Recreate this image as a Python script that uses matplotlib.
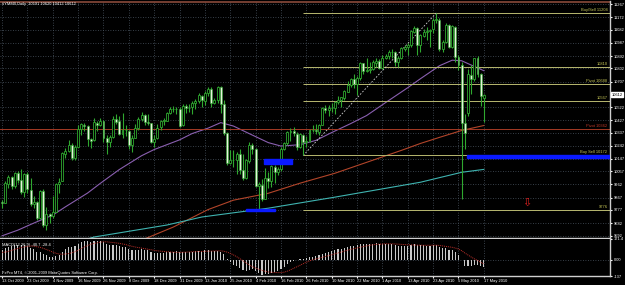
import matplotlib
matplotlib.use("Agg")
import matplotlib.pyplot as plt
from matplotlib.patches import Rectangle
import numpy as np
import pandas as pd

plt.rcParams['font.family'] = ['Liberation Sans', 'DejaVu Sans']

# ---- data ----
title = "#YMM0,Daily  10591 10620 10412 10612"
date_labels = ["13 Oct 2009", "23 Oct 2009", "4 Nov 2009", "16 Nov 2009", "26 Nov 2009",
               "8 Dec 2009", "18 Dec 2009", "31 Dec 2009", "13 Jan 2010", "25 Jan 2010",
               "4 Feb 2010", "16 Feb 2010", "26 Feb 2010", "10 Mar 2010", "22 Mar 2010",
               "1 Apr 2010", "13 Apr 2010", "23 Apr 2010", "5 May 2010", "17 May 2010"]
price_ticks = [11267, 11172, 11082, 10987, 10892, 10802, 10707, 10522, 10427,
               10337, 10242, 10147, 10057, 9962, 9867, 9777, 9682, 9592]
last_price = 10612

# closes before the first visible bar (warm-up for the MACD)
warmup_closes = [9090, 9172, 9234, 9305, 9460, 9464, 9494, 9498, 9535, 9499, 9451,
                 9265, 9235, 9299, 9396, 9400, 9452, 9502, 9582, 9560, 9581, 9638,
                 9747, 9738, 9775, 9733, 9784, 9703, 9662, 9620, 9744, 9697, 9667,
                 9464, 9443, 9554, 9686, 9681, 9742, 9820, 9840]

opens = [9835, 9830, 9968, 10015, 9950, 10045, 9995, 9905, 10035, 9925, 9822, 9835, 9720, 9915,
         9670, 9745, 9730, 9765, 9965, 9990, 10185, 10205, 10250, 10155, 10235, 10365, 10395, 10385,
         10290, 10285, 10410, 10395, 10425, 10300, 10270, 10305, 10435, 10420, 10330, 10355, 10350,
         10250, 10300, 10370, 10435, 10465, 10415, 10405, 10270, 10295, 10375, 10425, 10425, 10480,
         10505, 10505, 10510, 10390, 10530, 10515, 10520, 10550, 10565, 10605, 10570, 10625, 10655,
         10555, 10575, 10668, 10548, 10335, 10120, 10140, 10140, 10180, 10065, 10010, 10135, 10245,
         10220, 9950, 9960, 9860, 10010, 9985, 10090, 10050, 10075, 10220, 10260, 10340, 10350,
         10330, 10230, 10320, 10270, 10275, 10355, 10355, 10345, 10395, 10515, 10500, 10515, 10515,
         10560, 10575, 10590, 10635, 10685, 10728, 10690, 10735, 10840, 10785, 10790, 10800, 10845,
         10855, 10805, 10875, 10895, 10920, 10920, 10850, 10875, 10945, 10955, 10970, 11070, 11095,
         10970, 11040, 11065, 11075, 11085, 11155, 11150, 10940, 10995, 11115, 10960, 11105, 10885,
         10830, 10410, 10480, 10755, 10725, 10875, 10765, 10591]
highs = [9850, 9985, 10030, 10020, 10055, 10060, 10075, 10045, 10050, 10010, 9880, 9840, 9925, 9930,
         9800, 9755, 9880, 9975, 10010, 10195, 10225, 10285, 10265, 10245, 10395, 10405, 10410, 10390,
         10300, 10440, 10425, 10445, 10430, 10320, 10320, 10460, 10470, 10460, 10480, 10395, 10360,
         10320, 10400, 10450, 10485, 10475, 10470, 10410, 10320, 10400, 10430, 10440, 10485, 10525,
         10530, 10520, 10525, 10545, 10545, 10545, 10570, 10580, 10625, 10610, 10640, 10665, 10665,
         10590, 10675, 10672, 10575, 10345, 10210, 10215, 10200, 10220, 10185, 10145, 10270, 10260,
         10225, 9980, 10005, 10080, 10050, 10105, 10100, 10090, 10230, 10270, 10350, 10370, 10375,
         10340, 10335, 10325, 10310, 10365, 10395, 10400, 10400, 10525, 10535, 10540, 10550, 10570,
         10600, 10595, 10645, 10710, 10735, 10760, 10750, 10850, 10845, 10880, 10850, 10860, 10880,
         10870, 10900, 10905, 10935, 10945, 10930, 10890, 10955, 10975, 10985, 11080, 11110, 11100,
         11050, 11090, 11100, 11090, 11165, 11204, 11165, 11005, 11130, 11125, 11120, 11110, 10900,
         10850, 10470, 10800, 10830, 10880, 10890, 10770, 10620]
lows = [9790, 9825, 9935, 9930, 9935, 9975, 9895, 9870, 9900, 9805, 9790, 9705, 9715, 9655,
        9635, 9680, 9720, 9760, 9900, 9985, 10150, 10200, 10140, 10140, 10230, 10320, 10350, 10240,
        10225, 10280, 10350, 10385, 10270, 10180, 10230, 10300, 10400, 10320, 10300, 10310, 10220,
        10200, 10295, 10360, 10420, 10390, 10395, 10265, 10230, 10290, 10360, 10395, 10420, 10470,
        10490, 10470, 10380, 10385, 10480, 10490, 10470, 10510, 10550, 10520, 10540, 10600, 10525,
        10545, 10555, 10480, 10320, 10100, 10110, 10085, 10040, 10040, 9995, 10005, 10120, 10180,
        9940, 9785, 9840, 9855, 9935, 9940, 9970, 10030, 10060, 10210, 10245, 10280, 10310,
        10215, 10225, 10172, 10235, 10270, 10340, 10330, 10320, 10390, 10480, 10460, 10490, 10470,
        10545, 10520, 10575, 10630, 10670, 10660, 10610, 10720, 10760, 10775, 10770, 10790, 10810,
        10795, 10800, 10870, 10870, 10880, 10820, 10810, 10870, 10930, 10900, 10960, 11060, 10900,
        10920, 11030, 11010, 10960, 11060, 11130, 10930, 10920, 10990, 10950, 10950, 10850, 10790,
        9860, 10220, 10460, 10620, 10710, 10740, 10530, 10412]
closes = [9826, 9971, 10018, 9951, 10047, 9996, 9904, 10036, 9927, 9823, 9837, 9718, 9918, 9668,
          9749, 9732, 9762, 9966, 9983, 10187, 10207, 10251, 10157, 10230, 10367, 10397, 10386, 10292,
          10278, 10411, 10394, 10424, 10300, 10270, 10305, 10437, 10418, 10331, 10354, 10355, 10251,
          10302, 10371, 10437, 10466, 10417, 10406, 10273, 10294, 10374, 10425, 10426, 10480, 10507,
          10505, 10509, 10388, 10529, 10517, 10519, 10552, 10563, 10609, 10572, 10626, 10656, 10555,
          10575, 10670, 10548, 10335, 10118, 10142, 10139, 10181, 10065, 10012, 10136, 10247, 10221,
          9952, 9962, 9858, 10009, 9988, 10094, 10049, 10075, 10219, 10259, 10343, 10352, 10333,
          10232, 10324, 10271, 10275, 10354, 10356, 10347, 10394, 10516, 10503, 10514, 10517, 10562,
          10575, 10592, 10636, 10684, 10729, 10692, 10736, 10839, 10786, 10791, 10800, 10846, 10857,
          10807, 10877, 10895, 10924, 10920, 10848, 10878, 10947, 10956, 10969, 11073, 11095, 10969,
          11042, 11067, 11075, 11084, 11154, 11155, 10942, 10995, 11117, 10959, 11110, 10885, 10830,
          10410, 10335, 10760, 10725, 10875, 10765, 10600, 10612]

# moving averages, sampled (bar index, value)
ma_purple_bars = [0, 5, 10, 16, 20, 27, 31, 37, 44, 48, 52, 56, 60, 65, 69, 73, 78, 84, 88,
                  94, 99, 104, 110, 115, 121, 128, 132, 138, 142, 145, 152]
ma_purple = [9590, 9631, 9682, 9740, 9800, 9900, 9970, 10070, 10170, 10215, 10250, 10285, 10331,
             10370, 10410, 10385, 10330, 10265, 10240, 10250, 10281, 10338, 10403, 10461, 10555,
             10663, 10728, 10822, 10862, 10858, 10786]
ma_brown_bars = [40, 54, 65, 73, 84, 94, 105, 115, 126, 132, 138, 145, 152]
ma_brown = [9520, 9653, 9780, 9848, 9898, 9971, 10043, 10122, 10209, 10259, 10303, 10353, 10389]
ma_teal_bars = [20, 29, 52, 63, 84, 105, 132, 145, 152]
ma_teal = [9520, 9581, 9668, 9726, 9790, 9870, 9978, 10050, 10071]

# drawn objects
fib_start, fib_end = 95, 137
fib_levels = [11204, 10810, 10688, 10567, 10172, 9776]
fib_texts = ["Buy/Sell 11204", "10810", "Pivot 10688", "10567", "Buy Sell 10172", "9776"]
pivot_level = 10362
pivot_text = "Pivot 10362"
blue_zones = [(82.6, 91.5, 10112, 10148), (77, 86, 9768, 9785), (146.7, 192, 10152, 10178)]
arrow_bar, arrow_price = 165.6, 9830
macd_title = "MACD(12,26,9) -40.7 -28.4"
macd_ticks = [171.4, 0.0, -137]
copyright = "FxPro MT4, \u00a9 2001-2009 MetaQuotes Software Corp."

# ---- figure ----
bg = "black"
grid_c = "#4a5560"
fs = 2.9
fig = plt.figure(figsize=(6.25, 2.85), dpi=100, facecolor=bg)
ax = fig.add_axes([0.0, 1 - 238 / 285, 610 / 625, 237 / 285], facecolor=bg)
axm = fig.add_axes([0.0, 1 - 276 / 285, 610 / 625, 37 / 285], facecolor=bg, sharex=ax)

n = len(closes)
x = np.arange(n)
o, h, l, c = map(np.array, (opens, highs, lows, closes))
up = c >= o
wick = "#2fa82f"
ax.vlines(x, l, h, color=wick, lw=0.8, zorder=3)
body_lo = np.minimum(o, c)
body_h = np.maximum(np.abs(c - o), 3)
ax.bar(x[up], body_h[up], bottom=body_lo[up], width=0.62, facecolor="black",
       edgecolor=wick, lw=0.6, zorder=4)
ax.bar(x[~up], body_h[~up], bottom=body_lo[~up], width=0.62, facecolor="#e6f3dc",
       edgecolor=wick, lw=0.4, zorder=4)

ax.plot(ma_purple_bars, ma_purple, color="#8a5fb0", lw=0.8, zorder=2)
ax.plot(ma_brown_bars, ma_brown, color="#b2452a", lw=0.8, zorder=2)
ax.plot(ma_teal_bars, ma_teal, color="#3fb3b0", lw=0.8, zorder=2)

xmax = 191.8
ax.set_xlim(-0.65, xmax)
ax.set_ylim(9574, 11291)

fib_c = "#b8b870"
ax.hlines(fib_levels, fib_start, xmax, color=fib_c, lw=0.7, zorder=2)
for lev, t in zip(fib_levels, fib_texts):
    ax.text(xmax - 0.8, lev + 8, t, color="#c8c858", fontsize=fs, ha="right", va="bottom")
ax.plot([fib_start, fib_end], [fib_levels[4], fib_levels[0]], color="#d0d0d0", lw=0.6,
        ls=(0, (2, 2)), zorder=2)
ax.axhline(pivot_level, color="#a53a25", lw=0.7, zorder=2)
ax.text(xmax - 0.8, pivot_level + 8, pivot_text, color="#c03a2a", fontsize=fs, ha="right", va="bottom")
for b0, b1, p0, p1 in blue_zones:
    ax.add_patch(Rectangle((b0, p0), b1 - b0, p1 - p0, color="#0a1aff", zorder=5))
ax.text(arrow_bar, arrow_price, "\u21e9", color="#e02020", fontsize=8, ha="center", va="center",
        family="DejaVu Sans")
ax.axhline(11285, color="#8a4a3a", lw=1.2)

ax.text(0.004, 0.995, title, transform=ax.transAxes, color="white", fontsize=fs, va="top")

ax.set_yticks(price_ticks)
ax.set_yticklabels([str(v) for v in price_ticks])
ax.yaxis.tick_right()
ax.tick_params(axis="y", colors="white", labelsize=fs, length=1.5, pad=1)
ax.tick_params(axis="x", bottom=False, labelbottom=False)
ax.text(1.002, last_price, str(last_price), transform=ax.get_yaxis_transform(), color="black",
        fontsize=fs, va="center", ha="left",
        bbox=dict(boxstyle="square,pad=0.15", fc="white", ec="white"))

date_pos = np.arange(len(date_labels)) * 8
for a in (ax, axm):
    a.set_xticks(date_pos)
    a.grid(True, color=grid_c, ls=(0, (1, 2)), lw=0.6)
    for s in a.spines.values():
        s.set_color("#cfcfcf")
        s.set_linewidth(1.0)
    a.spines["left"].set_visible(False)
    a.spines["top"].set_visible(False)

# MACD
allc = pd.Series(warmup_closes + closes, dtype=float)
macd = allc.ewm(span=12, adjust=False).mean() - allc.ewm(span=26, adjust=False).mean()
signal = macd.rolling(9).mean()
macd = macd.values[-n:]
signal = signal.values[-n:]
axm.bar(x, macd, width=0.35, color="#c8c8c8", zorder=3)
axm.plot(x, signal, color="#c0302a", lw=0.7, ls=(0, (1, 1)), zorder=4)
axm.set_ylim(-137, 171.4)
axm.grid(False)
axm.grid(True, axis="x", color=grid_c, ls=(0, (1, 2)), lw=0.6)
axm.axhline(0, color=grid_c, ls=(0, (1, 2)), lw=0.6)
axm.set_yticks(macd_ticks)
axm.set_yticklabels(["171.4", "0.00", "-137"])
axm.yaxis.tick_right()
axm.tick_params(axis="y", colors="white", labelsize=fs, length=1.5, pad=1)
axm.set_xticklabels(date_labels, ha="left")
axm.tick_params(axis="x", colors="white", labelsize=fs, length=1.5, pad=1)
axm.text(0.004, 0.9, macd_title, transform=axm.transAxes, color="white", fontsize=fs, va="top")
axm.text(0.004, 0.04, copyright, transform=axm.transAxes, color="white", fontsize=fs, va="bottom")

fig.savefig("out.png", dpi=100, facecolor=bg)
